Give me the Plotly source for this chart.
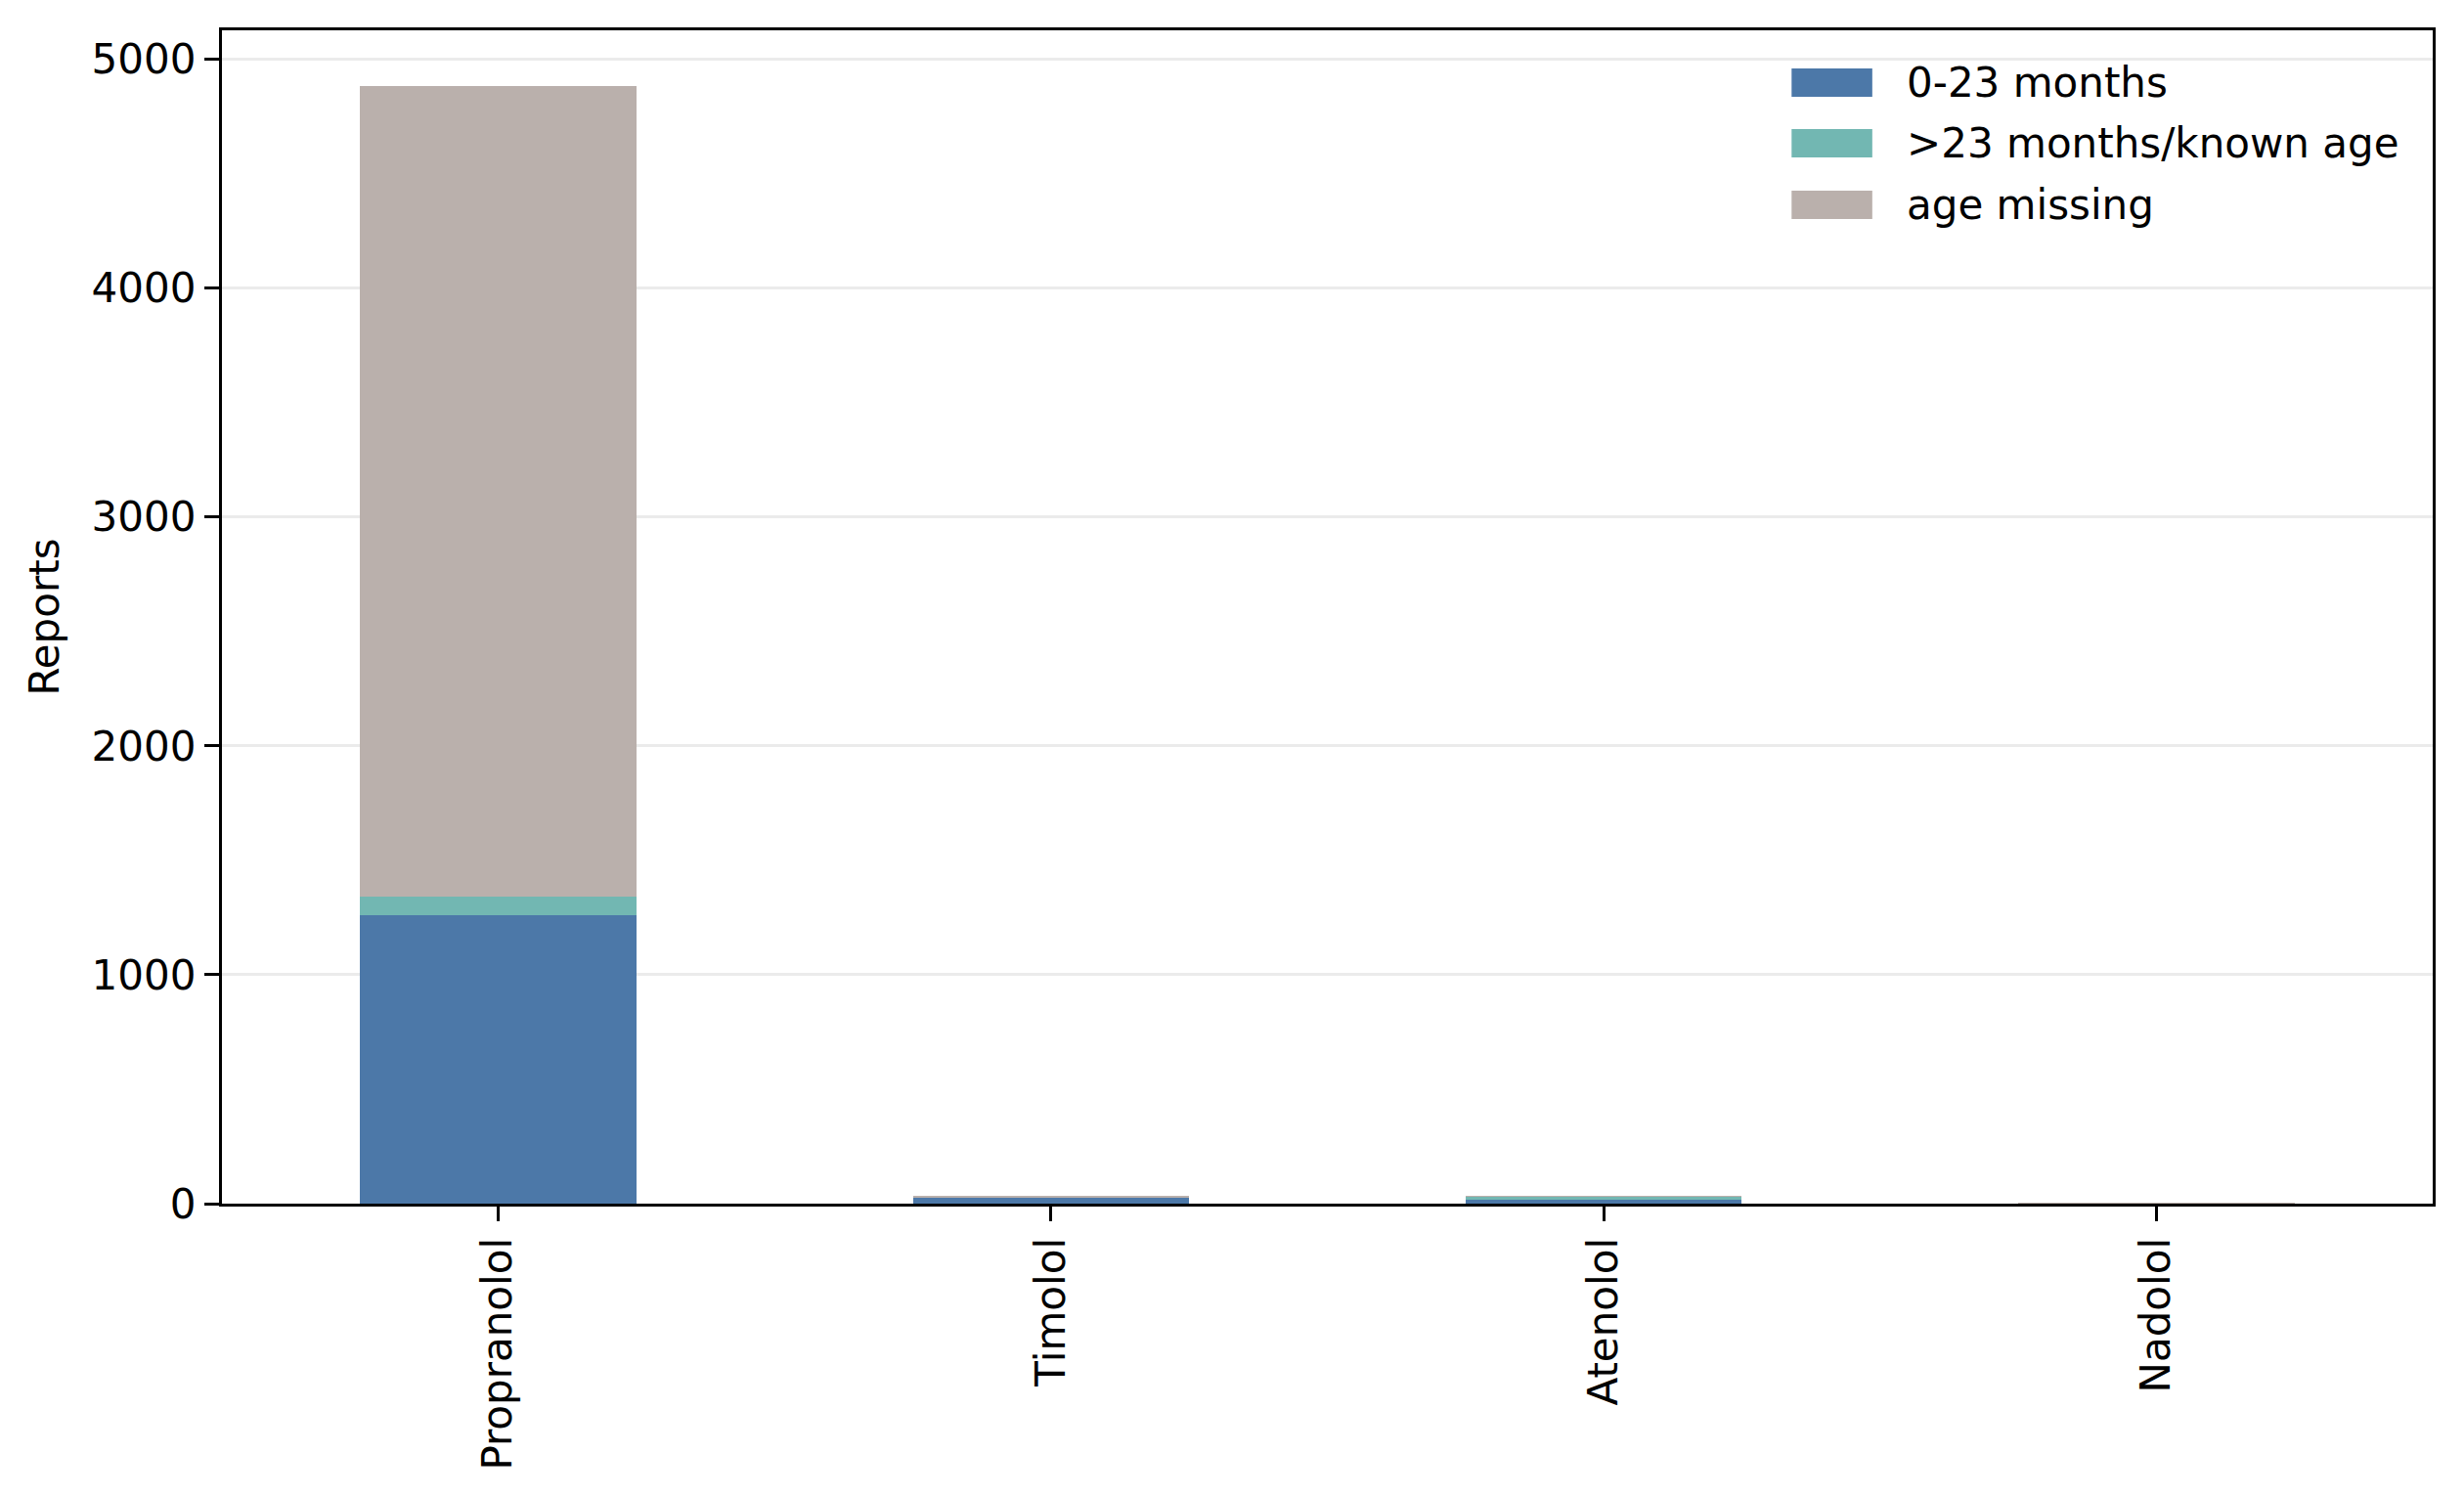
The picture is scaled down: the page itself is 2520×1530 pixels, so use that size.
import plotly.graph_objects as go

drugs = ['Propranolol', 'Timolol', 'Atenolol', 'Nadolol']
infants = [1260, 27, 18, 1]
older_known = [82, 0, 13, 0]
age_missing = [3540, 3, 3, 2]

series = [
    ('0-23 months', infants, '#4c78a8'),
    ('>23 months/known age', older_known, '#72b7b2'),
    ('age missing', age_missing, '#bab0ac'),
]

font = dict(family='DejaVu Sans', size=42, color='black')

fig = go.Figure()
for name, vals, color in series:
    fig.add_trace(go.Bar(x=drugs, y=vals, name=name, width=0.5,
                         marker=dict(color=color, line_width=0),
                         showlegend=False))

totals = [a + b + c for a, b, c in zip(infants, older_known, age_missing)]

# legend drawn by hand so the patches look like matplotlib's
legend_rows = [0.9554, 0.9038, 0.8513]
shapes = []
annotations = []
for (name, vals, color), yc in zip(series, legend_rows):
    shapes.append(dict(type='rect', xref='paper', yref='paper',
                       x0=0.710, x1=0.7465, y0=yc - 0.0121, y1=yc + 0.0121,
                       fillcolor=color, line_width=0))
    annotations.append(dict(text=name, xref='paper', yref='paper',
                            x=0.761, y=yc, xanchor='left', yanchor='middle',
                            showarrow=False, font=font))

# page body has an 8px margin, so the figure is a bit smaller than the window
fig.update_layout(
    width=2512, height=1522,
    margin=dict(l=219, r=32, t=23, b=299),
    barmode='stack',
    plot_bgcolor='white', paper_bgcolor='white',
    font=font,
    shapes=shapes, annotations=annotations,
    xaxis=dict(range=[-0.5, 3.5], tickangle=-90, ticks='outside', ticklen=15,
               tickwidth=3.3, tickcolor='black', showline=True, linecolor='black',
               linewidth=3.3, mirror=True, showgrid=False, tickfont=font),
    yaxis=dict(range=[0, max(totals) * 1.05], tickvals=[0, 1000, 2000, 3000, 4000, 5000],
               tickformat='d', ticks='outside', ticklen=15, tickwidth=3.3,
               tickcolor='black', showline=True, linecolor='black', linewidth=3.3,
               mirror=True, showgrid=True, gridcolor='rgba(190,190,190,0.3)',
               gridwidth=3, zeroline=False, layer='above traces', tickfont=font,
               title=dict(text='Reports', font=font, standoff=20)),
)

fig.write_html("out.html")
